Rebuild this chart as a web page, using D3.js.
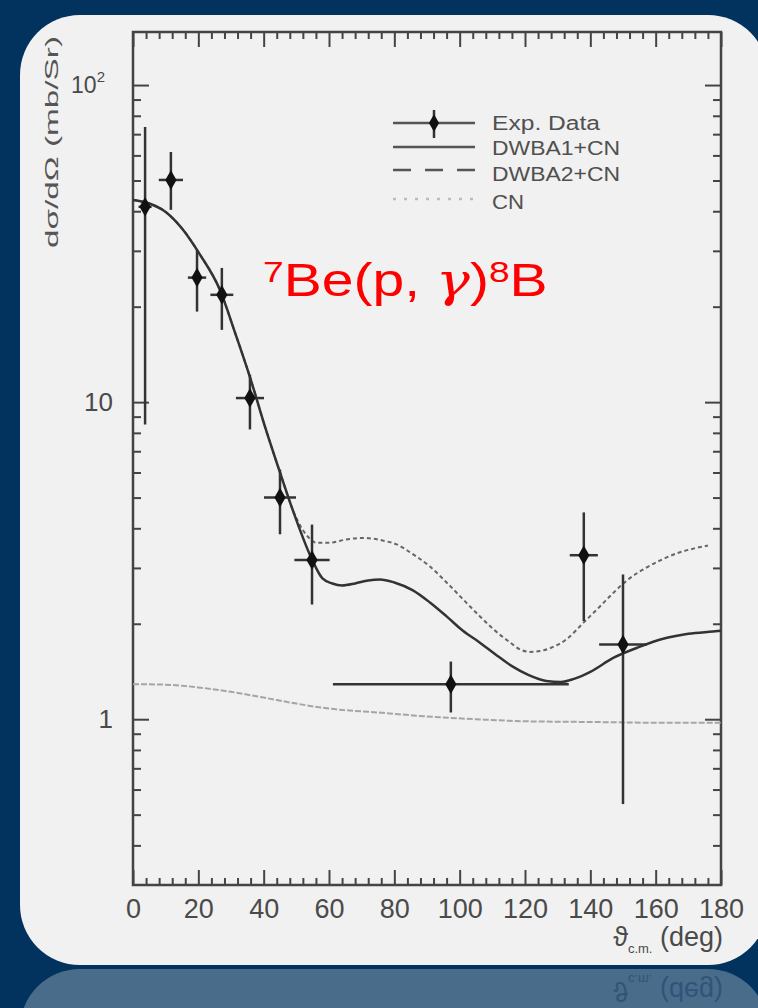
<!DOCTYPE html>
<html>
<head>
<meta charset="utf-8">
<script src="https://cdn.jsdelivr.net/npm/d3@7"></script>
<style>
  body { margin: 0; background: #02335f; }
  svg { display: block; }
  .tick text { font-family: "Liberation Sans", Arial, sans-serif; fill: #4a4a4a; }
</style>
</head>
<body>
<div id="chart"></div>
<script>
// experimental points (theta in deg, cross section in mb/sr)
var expTheta = [3.7, 11.6, 19.6, 27.2, 35.8, 45.0, 54.8, 97.3, 138.0, 150.0];
var expThetaErr = [2.0, 3.7, 2.8, 3.5, 4.3, 4.9, 5.4, 36.1, 4.3, 7.3];
var expSigma = [41.3, 50.2, 24.7, 21.8, 10.3, 5.0, 3.18, 1.29, 3.29, 1.72];
var expSigmaHi = [73.8, 61.5, 30.2, 26.5, 12.2, 6.13, 4.11, 1.52, 4.49, 2.86];
var expSigmaLo = [8.5, 40.4, 19.3, 16.9, 8.2, 3.83, 2.30, 1.05, 2.04, 0.54];

// DWBA1+CN (solid)
var dwba1Theta = [0, 5, 10, 15, 20.5, 26.6, 31.2, 35.8, 40.4, 45, 49.6, 54.8, 58, 61, 64, 68, 72, 75.6, 80, 85.7, 91, 96, 101, 106, 111, 116, 121, 126.5, 131, 135, 140, 147, 155, 162, 170, 177.5, 180];
var dwba1Sigma = [43.4, 42.3, 39.8, 35.3, 29.2, 22.6, 16.6, 12.0, 8.37, 6.0, 4.36, 3.19, 2.78, 2.68, 2.64, 2.68, 2.74, 2.76, 2.70, 2.55, 2.33, 2.11, 1.90, 1.75, 1.60, 1.47, 1.38, 1.32, 1.31, 1.34, 1.41, 1.56, 1.69, 1.79, 1.86, 1.89, 1.90];

// DWBA2+CN (dashed)
var dwba2Theta = [0, 5, 10, 15, 20.5, 26.6, 31.2, 35.8, 40.4, 45, 49.6, 52, 54, 56.2, 60, 65.4, 70, 73.5, 77, 80.7, 85, 90.9, 96, 101, 106, 111.4, 115, 118.5, 121.5, 124.6, 128, 132.8, 138, 143, 147, 152, 157, 162, 167, 172, 176];
var dwba2Sigma = [43.4, 42.3, 39.8, 35.3, 29.2, 22.6, 16.6, 12.0, 8.37, 6.0, 4.4, 3.95, 3.72, 3.60, 3.60, 3.69, 3.73, 3.71, 3.65, 3.56, 3.35, 3.03, 2.70, 2.39, 2.12, 1.88, 1.76, 1.66, 1.63, 1.64, 1.68, 1.79, 2.02, 2.27, 2.50, 2.78, 3.00, 3.19, 3.35, 3.46, 3.53];

// CN only (light dotted)
var cnTheta = [0, 10, 20, 30, 40, 50, 60, 75, 90, 105, 120, 140, 160, 180];
var cnSigma = [1.29, 1.285, 1.26, 1.22, 1.17, 1.12, 1.08, 1.05, 1.02, 1.0, 0.985, 0.98, 0.975, 0.975];

var xMajor = [0, 20, 40, 60, 80, 100, 120, 140, 160, 180];
var xTickLabels = ["0", "20", "40", "60", "80", "100", "120", "140", "160", "180"];
var yMajor = [1, 10, 100];
var yTickLabels = ["1", "10", "10"];
var legendLabels = ["Exp. Data", "DWBA1+CN", "DWBA2+CN", "CN"];

var svgWidth = 758;
var svgHeight = 1008;

var svg = d3.select("#chart")
  .append("svg")
  .attr("width", svgWidth)
  .attr("height", svgHeight);

// card + its reflection
svg.append("rect")
  .attr("x", 20).attr("y", 969)
  .attr("width", 748).attr("height", 200)
  .attr("rx", 60)
  .attr("fill", "#f1f1f1")
  .attr("opacity", 0.3);

svg.append("rect")
  .attr("x", 20).attr("y", 15)
  .attr("width", 748).attr("height", 950)
  .attr("rx", 60)
  .attr("fill", "#f1f1f1");

var x = d3.scaleLinear().domain([0, 180]).range([133, 721]);
var y = d3.scaleLog().domain([0.3, 147]).range([885, 32]);

var xMinor = d3.range(0, 181, 4).filter(d => d % 20 !== 0);
var yMinor = [0.4, 0.5, 0.6, 0.7, 0.8, 0.9, 2, 3, 4, 5, 6, 7, 8, 9, 20, 30, 40, 50, 60, 70, 80, 90];

var axisColor = "#444";

function styleAxis(g) {
  g.select(".domain").remove();
  g.selectAll(".tick line").attr("stroke", axisColor).attr("stroke-width", 2);
}

// bottom axis with labels
svg.append("g")
  .attr("transform", "translate(0,885)")
  .call(d3.axisBottom(x).tickValues(xMajor).tickSizeInner(-15).tickSizeOuter(0).tickPadding(14)
    .tickFormat((d, i) => xTickLabels[i]))
  .call(styleAxis)
  .selectAll("text").attr("font-size", 27);

svg.append("g")
  .attr("transform", "translate(0,885)")
  .call(d3.axisBottom(x).tickValues(xMinor).tickSize(-7).tickFormat(""))
  .call(styleAxis);

// top axis
svg.append("g")
  .attr("transform", "translate(0,32)")
  .call(d3.axisTop(x).tickValues(xMajor).tickSize(-15).tickFormat(""))
  .call(styleAxis);
svg.append("g")
  .attr("transform", "translate(0,32)")
  .call(d3.axisTop(x).tickValues(xMinor).tickSize(-7).tickFormat(""))
  .call(styleAxis);

// left axis with labels
var leftAxis = svg.append("g")
  .attr("transform", "translate(133,0)")
  .call(d3.axisLeft(y).tickValues(yMajor).tickSizeInner(-16).tickSizeOuter(0).tickPadding(20)
    .tickFormat((d, i) => yTickLabels[i]))
  .call(styleAxis);
leftAxis.selectAll("text").attr("font-size", 26);
leftAxis.selectAll(".tick").filter(d => d === 100).select("text")
  .attr("font-size", 23)
  .attr("x", -28)
  .append("tspan")
  .attr("font-size", 15)
  .attr("dy", "-0.75em")
  .text("2");

svg.append("g")
  .attr("transform", "translate(133,0)")
  .call(d3.axisLeft(y).tickValues(yMinor).tickSize(-8).tickFormat(""))
  .call(styleAxis);

// right axis
svg.append("g")
  .attr("transform", "translate(721,0)")
  .call(d3.axisRight(y).tickValues(yMajor).tickSize(-16).tickFormat(""))
  .call(styleAxis);
svg.append("g")
  .attr("transform", "translate(721,0)")
  .call(d3.axisRight(y).tickValues(yMinor).tickSize(-8).tickFormat(""))
  .call(styleAxis);

// frame
svg.append("rect")
  .attr("x", x(0)).attr("y", y(147))
  .attr("width", x(180) - x(0))
  .attr("height", y(0.3) - y(147))
  .attr("fill", "none")
  .attr("stroke", axisColor)
  .attr("stroke-width", 2.5);

// curves
var line = d3.line()
  .x(d => x(d[0]))
  .y(d => y(d[1]))
  .curve(d3.curveMonotoneX);

svg.append("path")
  .datum(d3.zip(cnTheta, cnSigma))
  .attr("d", line)
  .attr("fill", "none")
  .attr("stroke", "#a5a5a5")
  .attr("stroke-width", 2)
  .attr("stroke-dasharray", "6,2");

svg.append("path")
  .datum(d3.zip(dwba2Theta, dwba2Sigma))
  .attr("d", line)
  .attr("fill", "none")
  .attr("stroke", "#666")
  .attr("stroke-width", 2)
  .attr("stroke-dasharray", "4,3");

svg.append("path")
  .datum(d3.zip(dwba1Theta, dwba1Sigma))
  .attr("d", line)
  .attr("fill", "none")
  .attr("stroke", "#333")
  .attr("stroke-width", 2.5);

// data with error bars
var points = expTheta.map((t, i) => ({
  t: t, dt: expThetaErr[i], s: expSigma[i], hi: expSigmaHi[i], lo: expSigmaLo[i]
}));

var pts = svg.append("g").selectAll("g")
  .data(points)
  .enter()
  .append("g");

pts.append("line")
  .attr("x1", d => x(d.t)).attr("x2", d => x(d.t))
  .attr("y1", d => y(d.hi)).attr("y2", d => y(d.lo))
  .attr("stroke", "#333").attr("stroke-width", 2.5);

pts.append("line")
  .attr("x1", d => x(d.t - d.dt)).attr("x2", d => x(d.t + d.dt))
  .attr("y1", d => y(d.s)).attr("y2", d => y(d.s))
  .attr("stroke", "#333").attr("stroke-width", 2.5);

pts.append("path")
  .attr("d", d3.symbol().type(d3.symbolDiamond).size(110))
  .attr("transform", d => `translate(${x(d.t)},${y(d.s)})`)
  .attr("fill", "#111");

// legend
var legend = svg.append("g")
  .attr("font-family", "Liberation Sans, Arial, sans-serif")
  .attr("font-size", 20)
  .attr("fill", "#505050");

legend.append("line").attr("x1", 393).attr("x2", 475).attr("y1", 123).attr("y2", 123)
  .attr("stroke", "#555").attr("stroke-width", 2.5);
legend.append("line").attr("x1", 434).attr("x2", 434).attr("y1", 110).attr("y2", 138)
  .attr("stroke", "#333").attr("stroke-width", 2.5);
legend.append("path")
  .attr("d", d3.symbol().type(d3.symbolDiamond).size(90))
  .attr("transform", "translate(434,123)")
  .attr("fill", "#111");
legend.append("line").attr("x1", 393).attr("x2", 475).attr("y1", 147).attr("y2", 147)
  .attr("stroke", "#555").attr("stroke-width", 2.5);
legend.append("line").attr("x1", 393).attr("x2", 475).attr("y1", 170).attr("y2", 170)
  .attr("stroke", "#555").attr("stroke-width", 2.5).attr("stroke-dasharray", "18,14");
legend.append("line").attr("x1", 393).attr("x2", 475).attr("y1", 199).attr("y2", 199)
  .attr("stroke", "#bbb").attr("stroke-width", 2.5).attr("stroke-dasharray", "3,8");

var legendY = [130, 155, 181, 209];
var legendW = [108, 128, 128, 32];
legend.selectAll("text")
  .data(legendLabels)
  .enter()
  .append("text")
  .attr("x", 492)
  .attr("y", (d, i) => legendY[i])
  .attr("textLength", (d, i) => legendW[i])
  .attr("lengthAdjust", "spacingAndGlyphs")
  .text(d => d);

// reaction label
var reaction = svg.append("text")
  .attr("transform", "translate(263,296) scale(1.24,1)")
  .attr("font-family", "Liberation Sans, Arial, sans-serif")
  .attr("font-size", 46)
  .attr("fill", "#ff0000");
reaction.append("tspan").attr("font-size", 30).attr("dy", -14).text("7");
reaction.append("tspan").attr("dy", 14).text("Be(p, ");
reaction.append("tspan").attr("font-family", "DejaVu Serif, Liberation Serif, serif").attr("font-style", "italic").text("γ");
reaction.append("tspan").text(")");
reaction.append("tspan").attr("font-size", 30).attr("dy", -14).text("8");
reaction.append("tspan").attr("dy", 14).text("B");

// axis titles
svg.append("text")
  .attr("transform", "translate(58,142) rotate(-90)")
  .attr("text-anchor", "middle")
  .attr("font-family", "Liberation Sans, Arial, sans-serif")
  .attr("font-size", 19)
  .attr("fill", "#555")
  .attr("textLength", 212)
  .attr("lengthAdjust", "spacingAndGlyphs")
  .text("dσ/dΩ (mb/Sr)");

function xTitle(g) {
  g.attr("text-anchor", "end")
    .attr("font-family", "Liberation Sans, Arial, sans-serif")
    .attr("font-size", 27);
  g.append("tspan").text("ϑ");
  g.append("tspan").attr("font-size", 13).attr("dy", 7).text("c.m.");
  g.append("tspan").attr("dy", -7).text(" (deg)");
}

svg.append("text")
  .attr("x", 723).attr("y", 946)
  .attr("fill", "#4a4a4a")
  .call(xTitle);

// faint mirror of the title in the reflection
svg.append("text")
  .attr("transform", "translate(0,1928) scale(1,-1)")
  .attr("x", 723).attr("y", 946)
  .attr("font-size", 22)
  .attr("fill", "#1f456d")
  .attr("opacity", 0.6)
  .call(xTitle);
</script>
</body>
</html>
